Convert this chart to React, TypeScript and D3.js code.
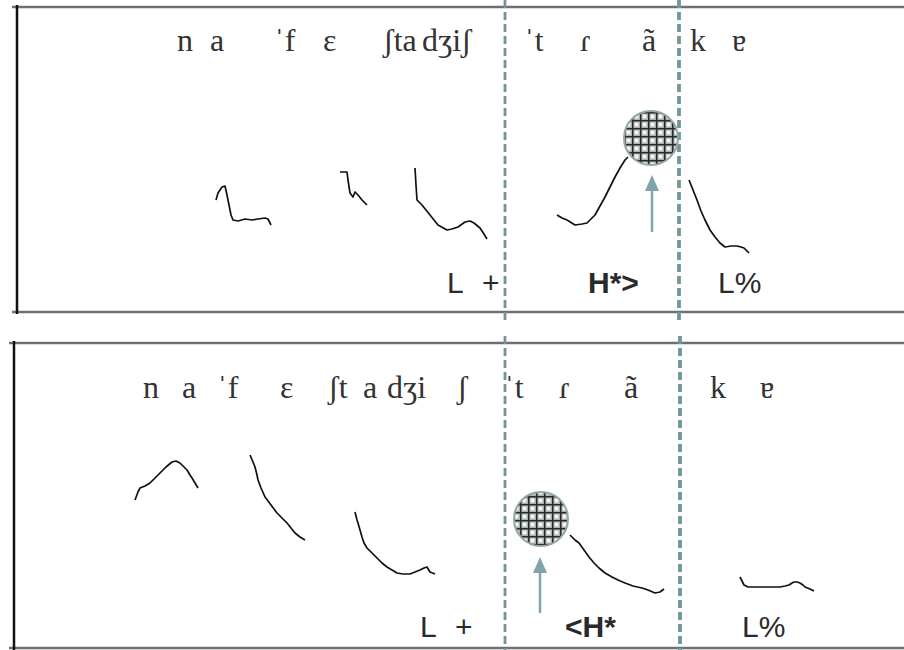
import React from "react";
import * as d3 from "d3";

// ---- Data -------------------------------------------------------------
// time axis in ms from the left frame edge, F0 in Hz

// Segment transcription (left edge time of each chunk)
const topPhones = ["n", "a", "ˈf", "ɛ", "ʃta", "dʒiʃ", "ˈt", "ɾ", "ã", "k", "ɐ"];
const topPhoneTimes = [160, 193, 257, 306, 366, 405, 507, 563, 625, 673, 715];

const bottomPhones = ["n", "a", "ˈf", "ɛ", "ʃt", "a", "dʒi", "ʃ", "ˈt", "ɾ", "ã", "k", "ɐ"];
const bottomPhoneTimes = [126, 165, 200, 263, 311, 346, 370, 440, 487, 542, 607, 693, 743];

// Tonal annotation
const topTones = ["L", "+", "H*>", "L%"];
const topToneTimes = [430, 465, 571, 701];
const bottomTones = ["L", "+", "<H*", "L%"];
const bottomToneTimes = [403, 438, 548, 725];

// Boundaries of the stressed syllable
const topBounds = [488, 662];
const bottomBounds = [488, 663];

// Peak markers (time, F0)
const topPeak = { t: 634, f0: 234 };
const bottomPeak = { t: 524, f0: 189 };
const topArrow = { t: 635, from: 140, to: 197 };
const bottomArrow = { t: 523, from: 95, to: 151 };

// F0 contours, upper utterance
const topC1: [number, number][] = [
  [199, 172], [201, 179], [205, 185], [208, 186], [210, 177], [212, 167], [214, 157],
  [216, 152], [221, 151], [228, 153], [235, 152], [241, 153], [248, 154], [251, 153], [254, 147],
];
const topC2: [number, number][] = [
  [323, 200], [330, 200], [331, 192], [333, 179], [336, 175], [338, 180], [341, 177],
  [345, 172], [350, 167],
];
const topC3: [number, number][] = [
  [398, 204], [399, 187], [400, 172], [405, 167], [413, 157], [421, 147], [430, 142],
  [435, 143], [441, 145], [448, 150], [453, 151], [457, 149], [463, 144], [467, 138], [470, 133],
];
const topC4: [number, number][] = [
  [540, 157], [545, 154], [550, 152], [558, 147], [565, 148], [570, 149], [574, 153],
  [578, 157], [583, 166], [588, 175], [593, 185], [598, 195], [603, 204], [608, 212], [611, 215],
];
const topC5: [number, number][] = [
  [672, 192], [676, 182], [680, 172], [684, 161], [688, 152], [693, 142], [698, 135],
  [703, 129], [708, 125], [714, 126], [720, 126], [724, 125], [727, 124], [732, 119],
];

// F0 contours, lower utterance
const botC1: [number, number][] = [
  [118, 208], [121, 216], [123, 220], [128, 222], [133, 225], [138, 230], [143, 235],
  [149, 241], [155, 246], [159, 247], [163, 245], [167, 241], [170, 238], [173, 233],
  [175, 230], [178, 225], [181, 220],
];
const botC2: [number, number][] = [
  [233, 253], [236, 246], [238, 241], [240, 233], [241, 228], [244, 220], [248, 211],
  [254, 203], [260, 195], [265, 190], [270, 185], [274, 180], [278, 175], [283, 171], [288, 168],
];
const botC3: [number, number][] = [
  [338, 196], [340, 188], [341, 185], [343, 178], [345, 171], [347, 165], [350, 160],
  [355, 155], [360, 150], [365, 145], [370, 141], [375, 138], [380, 135], [386, 134],
  [393, 134], [398, 136], [403, 138], [407, 140], [410, 141], [413, 136], [418, 134],
];
const botC4: [number, number][] = [
  [553, 173], [558, 168], [562, 165], [567, 158], [572, 151], [577, 145], [582, 140],
  [588, 135], [595, 131], [601, 128], [608, 125], [616, 122], [625, 120], [631, 118],
  [638, 115], [643, 116], [647, 119],
];
const botC5: [number, number][] = [
  [723, 131], [725, 127], [727, 123], [731, 121], [735, 121], [741, 121], [748, 121],
  [755, 121], [763, 121], [768, 122], [772, 123], [775, 125], [777, 126], [780, 126],
  [783, 125], [786, 123], [788, 121], [793, 119], [797, 117],
];

const topContours = [topC1, topC2, topC3, topC4, topC5];
const bottomContours = [botC1, botC2, botC3, botC4, botC5];

// ---- Layout -----------------------------------------------------------
const W = 904;
const H = 650;
const X0 = 17;

const panels = [
  {
    key: "a", top: 7, bottom: 312, left: 17,
    phones: topPhones, phoneTimes: topPhoneTimes, phoneBase: 51,
    tones: topTones, toneTimes: topToneTimes, toneBase: 293,
    bounds: topBounds, dashTop: 0, dashBottom: 322,
    peak: topPeak, arrow: topArrow, contours: topContours,
  },
  {
    key: "b", top: 343, bottom: 648, left: 14,
    phones: bottomPhones, phoneTimes: bottomPhoneTimes, phoneBase: 398,
    tones: bottomTones, toneTimes: bottomToneTimes, toneBase: 637,
    bounds: bottomBounds, dashTop: 336, dashBottom: 650,
    peak: bottomPeak, arrow: bottomArrow, contours: bottomContours,
  },
];

const x = d3.scaleLinear().domain([0, W - X0]).range([X0, W]);

const lineColor = "#6f6f6f";
const dashColor = "#6e9898";
const arrowColor = "#7fa4aa";

function Panel({ p }: { p: (typeof panels)[number] }) {
  const y = d3.scaleLinear().domain([60, 60 + (p.bottom - p.top)]).range([p.bottom, p.top]);
  const line = d3
    .line<[number, number]>()
    .x((d) => x(d[0]))
    .y((d) => y(d[1]));
  const ax = x(p.arrow.t);
  const tipY = y(p.arrow.to);
  return (
    <g>
      {/* frame */}
      <line x1={p.left - 5} x2={W} y1={p.top} y2={p.top} stroke={lineColor} strokeWidth={2.5} />
      <line x1={p.left - 5} x2={W} y1={p.bottom} y2={p.bottom} stroke={lineColor} strokeWidth={2.5} />
      <line x1={p.left} x2={p.left} y1={p.top - 2} y2={p.bottom + 2} stroke="#111" strokeWidth={2.5} />

      {/* syllable boundaries */}
      {p.bounds.map((b, i) => (
        <line
          key={i}
          x1={x(b)}
          x2={x(b)}
          y1={p.dashTop}
          y2={p.dashBottom}
          stroke={dashColor}
          strokeWidth={i === 0 ? 2.8 : 3.8}
          strokeDasharray="8 4"
        />
      ))}

      {/* transcription */}
      {p.phones.map((s, i) => (
        <text
          key={i}
          x={x(p.phoneTimes[i])}
          y={p.phoneBase}
          fontFamily="'Liberation Serif', 'DejaVu Serif', serif"
          fontSize={32}
          fill="#333"
        >
          {s}
        </text>
      ))}

      {/* tones */}
      {p.tones.map((s, i) => (
        <text
          key={i}
          x={x(p.toneTimes[i])}
          y={p.toneBase}
          fontFamily="'Liberation Sans', Arial, sans-serif"
          fontSize={30}
          fontWeight={s.includes("H") ? 700 : 400}
          fill="#2a2a2a"
        >
          {s}
        </text>
      ))}

      {/* F0 contours */}
      {p.contours.map((c, i) => (
        <path key={i} d={line(c) ?? ""} fill="none" stroke="#111" strokeWidth={1.7} strokeLinejoin="round" />
      ))}

      {/* peak marker */}
      <circle cx={x(p.peak.t)} cy={y(p.peak.f0)} r={27} fill="url(#gridFill)" stroke="#93a6a6" strokeWidth={2} />

      {/* arrow */}
      <line x1={ax} x2={ax} y1={y(p.arrow.from)} y2={tipY + 12} stroke={arrowColor} strokeWidth={2.5} />
      <path d={`M${ax},${tipY} L${ax - 7},${tipY + 16} L${ax + 7},${tipY + 16} Z`} fill={arrowColor} />
    </g>
  );
}

export default function App() {
  return (
    <svg
      width={W}
      height={H}
      viewBox={`0 0 ${W} ${H}`}
      style={{ position: "absolute", left: 0, top: 0, background: "#fff" }}
    >
      <defs>
        <pattern id="gridFill" width={8} height={8} patternUnits="userSpaceOnUse">
          <rect width={8} height={8} fill="#a9b0b0" />
          <rect x={2.5} y={2.5} width={4} height={4} fill="#f4f6f6" />
          <line x1={0.75} x2={0.75} y1={0} y2={8} stroke="#2b2b2b" strokeWidth={1.5} />
          <line x1={0} x2={8} y1={0.75} y2={0.75} stroke="#2b2b2b" strokeWidth={1.5} />
        </pattern>
      </defs>
      {panels.map((p) => (
        <Panel key={p.key} p={p} />
      ))}
    </svg>
  );
}
